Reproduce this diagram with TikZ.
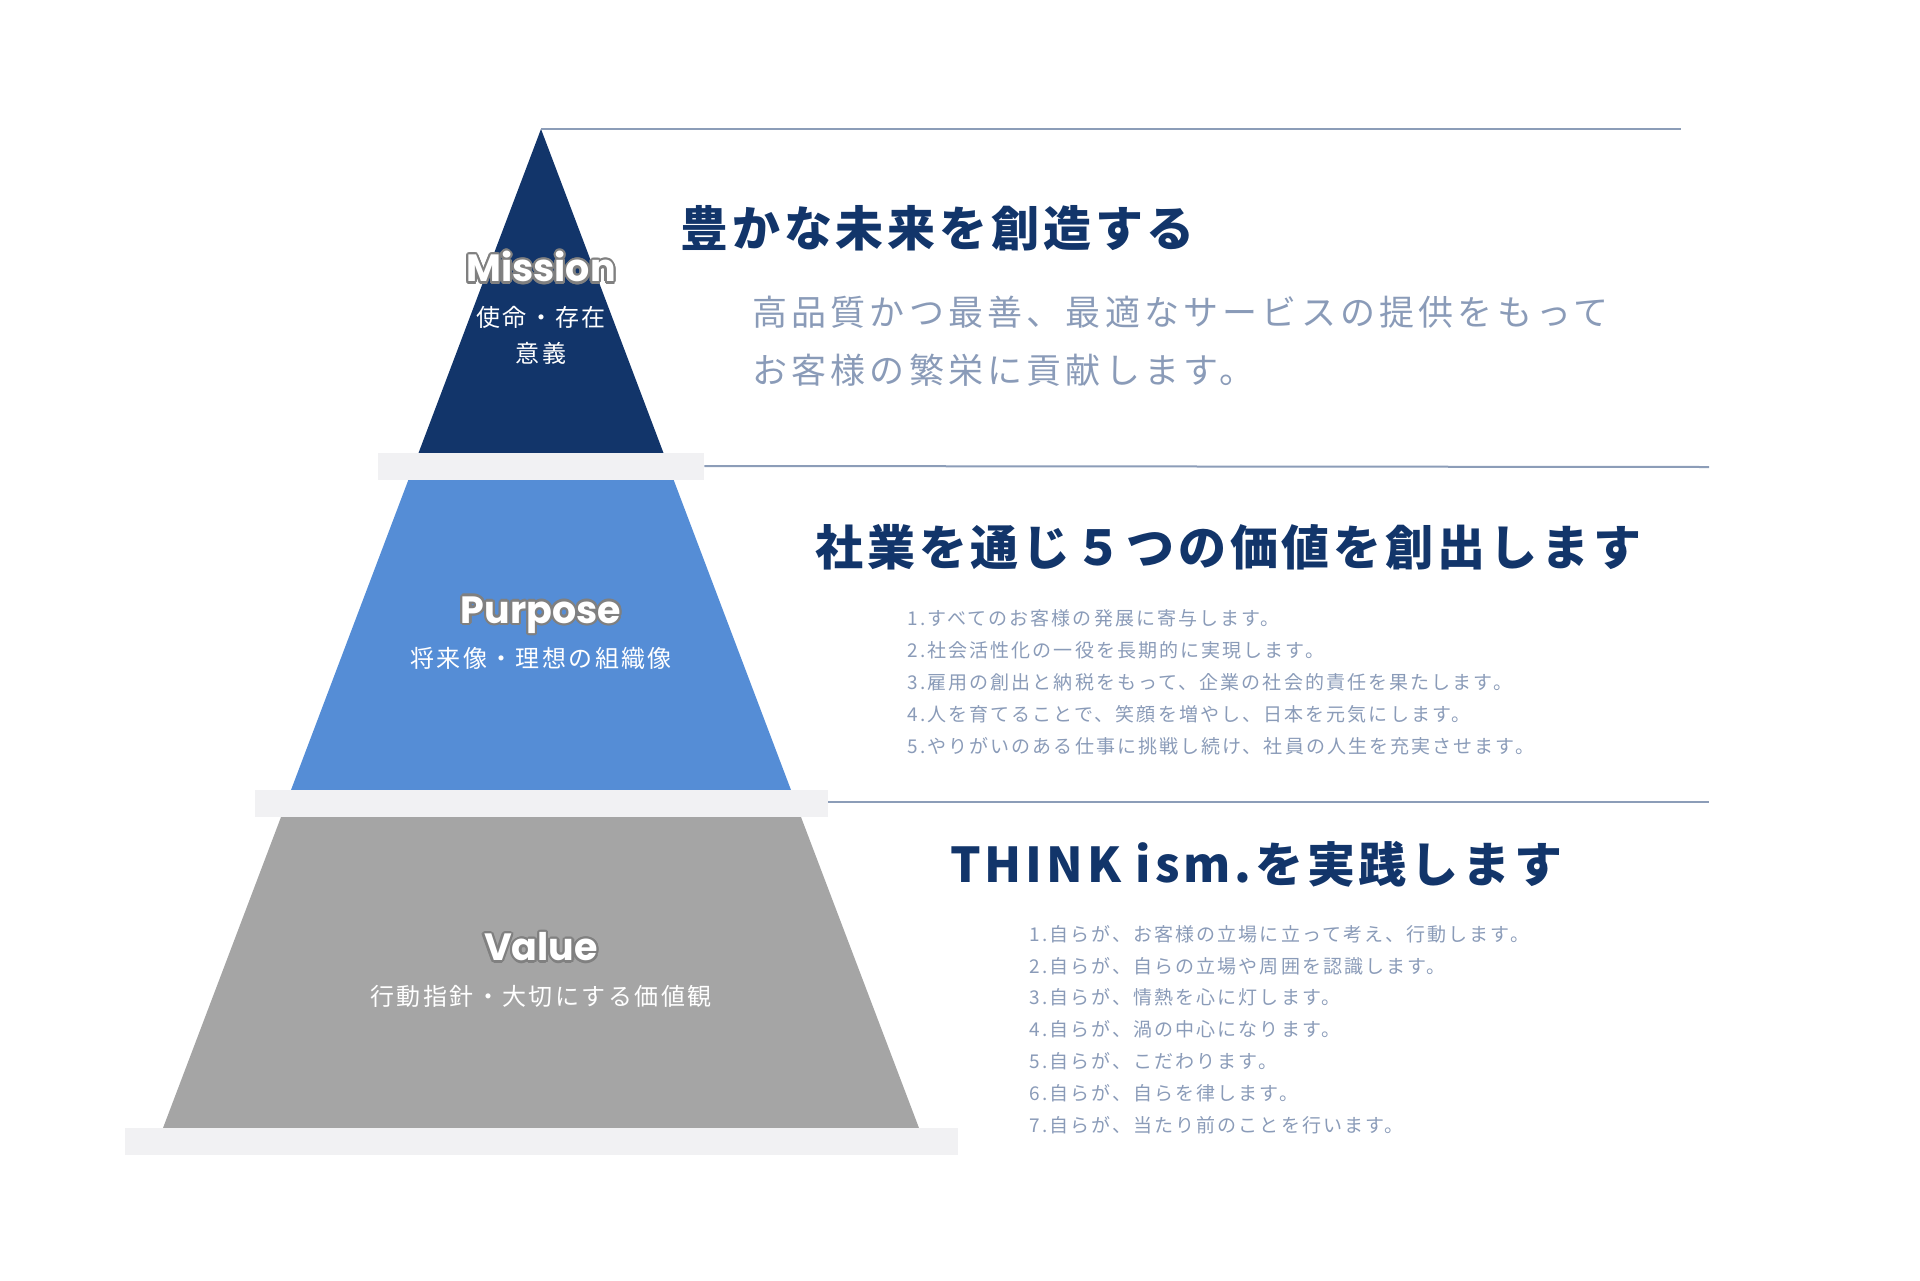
\documentclass[tikz,border=0pt]{standalone}
\usepackage{fontspec}
\usepackage[copies]{contour}
\usetikzlibrary{positioning}
\newfontfamily\jp{Noto Sans CJK JP}
\newfontfamily\pop{Poppins}
\definecolor{navy}{HTML}{12356A}
\definecolor{skyblue}{HTML}{558DD6}
\definecolor{stone}{HTML}{A5A5A5}
\definecolor{shelf}{HTML}{F1F1F3}
\definecolor{rulegray}{HTML}{8C9DB8}
\definecolor{mutedtxt}{HTML}{8A9BB8}
\contourlength{1.1pt}

\begin{document}
\begin{tikzpicture}[x=0.5pt, y=-0.5pt,
  shelfbar/.style={fill=shelf, draw=none, inner sep=0pt, minimum height=13.5pt},
  rule/.style={draw=rulegray, line width=1pt},
  enlabel/.style={text=white, inner sep=0pt, font=\pop\bfseries\fontsize{19}{22}\selectfont},
  jplabel/.style={text=white, inner sep=0pt, align=center,
                  font=\jp\addfontfeatures{LetterSpace=10}\fontsize{12}{18}\selectfont},
  headline/.style={anchor=west, inner sep=0pt, text=navy,
                   font=\jp\bfseries\addfontfeatures{LetterSpace=8}\fontsize{24}{28}\selectfont},
  lead/.style={anchor=west, inner sep=0pt, text=mutedtxt,
               font=\jp\addfontfeatures{LetterSpace=12}\fontsize{17.5}{20}\selectfont},
  item/.style={anchor=west, inner sep=0pt, text=mutedtxt,
               font=\jp\addfontfeatures{LetterSpace=11}\fontsize{9.5}{11}\selectfont},
]
  \useasboundingbox (0,0) rectangle (1920,1280);

  % pyramid
  \coordinate (apex) at (541,129);
  \fill[navy]     (apex) -- (663.5,453) -- (418.5,453) -- cycle;
  \fill[skyblue]  (408.7,479) -- (673.3,479) -- (791,790) -- (291,790) -- cycle;
  \fill[stone]    (281,817) -- (801,817) -- (919,1128) -- (163,1128) -- cycle;

  \node[shelfbar, minimum width=163pt]   (shelf1) at (541,466) {};
  \node[shelfbar, minimum width=286.5pt] (shelf2) at (541.5,803.5) {};
  \node[shelfbar, minimum width=416.5pt] (shelf3) at (541.5,1141.5) {};

  % rules to the right
  \coordinate (end1) at (1681,129);
  \coordinate (end2) at (1709,467);
  \coordinate (end3) at (1709,802);
  \draw[rule] (apex) -- (end1);
  \draw[rule] (shelf1.east) -- (end2);
  \draw[rule] (shelf2.east |- end3) -- (end3);

  % labels inside
  \node[enlabel] (mis) at (541,268) {\contour{gray}{Mission}};
  \node[jplabel] (misjp) at (541,335) {使命・存在\\意義};
  \node[enlabel] (pur) at (541,616) {\contour{gray}{Purpose}};
  \node[jplabel] (purjp) at (541,658) {将来像・理想の組織像};
  \node[enlabel] (val) at (541,948) {\contour{gray}{Value}};
  \node[jplabel] (valjp) at (541,996) {行動指針・大切にする価値観};

  % mission text
  \node[headline] (h1) at (680,228) {豊かな未来を創造する};
  \node[lead] (l1a) at (752,312) {高品質かつ最善、最適なサービスの提供をもって};
  \node[lead] (l1b) at (752,370) {お客様の繁栄に貢献します。};

  % purpose text
  \node[headline] (h2) at (815,547) {社業を通じ５つの価値を創出します};
  \foreach \t [count=\i] in {すべてのお客様の発展に寄与します。,
      社会活性化の一役を長期的に実現します。,
      雇用の創出と納税をもって、企業の社会的責任を果たします。,
      人を育てることで、笑顔を増やし、日本を元気にします。,
      やりがいのある仕事に挑戦し続け、社員の人生を充実させます。}
    \node[item] (p\i) at (907,586+32*\i) {\i.\t};

  % value text
  \node[headline] (h3) at (950,864) {THINK ism.を実践します};
  \foreach \t [count=\i] in {自らが、お客様の立場に立って考え、行動します。,
      自らが、自らの立場や周囲を認識します。,
      自らが、情熱を心に灯します。,
      自らが、渦の中心になります。,
      自らが、こだわります。,
      自らが、自らを律します。,
      自らが、当たり前のことを行います。}
    \node[item] (v\i) at (1029,902+31.9*\i) {\i.\t};
\end{tikzpicture}
\end{document}
